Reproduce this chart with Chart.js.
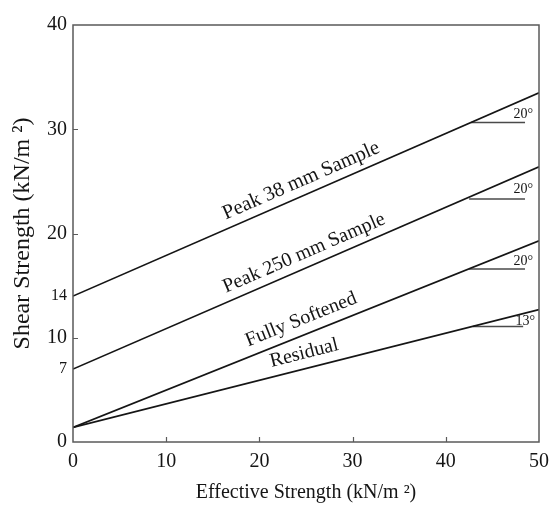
<!DOCTYPE html>
<html>
<head>
<meta charset="utf-8">
<script src="https://cdn.jsdelivr.net/npm/chart.js@4"></script>
<style>
  html, body { margin: 0; padding: 0; background: #ffffff; }
  #wrap { width: 549px; height: 507px; }
</style>
</head>
<body>
<div id="wrap"><canvas id="c" width="549" height="507"></canvas></div>
<script>
// ---- data ----
const strength = [0, 50];                 // effective strength (x)
const peak38 = [14, 33.5];                // Peak 38 mm Sample
const peak250 = [7, 26.4];                // Peak 250 mm Sample
const fullySoftened = [1.4, 19.3];        // Fully Softened
const residual = [1.4, 12.7];             // Residual

const lineNames = ['Peak 38 mm Sample', 'Peak 250 mm Sample', 'Fully Softened', 'Residual'];

// angle marker segments (horizontal reference lines)
const markerStart = [42.7, 42.5, 42.5, 42.9];
const markerEnd = [48.5, 48.5, 48.5, 48.3];
const markerLevel = [30.65, 23.3, 16.6, 11.08];
const angleLabels = ['20°', '20°', '20°', '13°'];

// tick labels
const xTicks = [0, 10, 20, 30, 40, 50];
const yTicks = [0, 7, 10, 14, 20, 30, 40];
const yTickMarks = [10, 20, 30];
const xTickMarks = [10, 20, 30, 40];

const SERIF = '"Liberation Serif", "Times New Roman", serif';
const INK = '#151515';
const AXIS = '#5a5a5a';

const toPts = vals => vals.map((v, i) => ({ x: strength[i], y: v }));
const series = [peak38, peak250, fullySoftened, residual];

const datasets = series.map((vals, i) => ({
  label: lineNames[i],
  data: toPts(vals),
  showLine: true,
  borderColor: INK,
  borderWidth: 1.6,
  pointRadius: 0,
  fill: false
}));
markerLevel.forEach((lv, i) => {
  datasets.push({
    label: 'marker' + i,
    data: [{ x: markerStart[i], y: lv }, { x: markerEnd[i], y: lv }],
    showLine: true,
    borderColor: '#4a4a4a',
    borderWidth: 1.5,
    pointRadius: 0,
    fill: false
  });
});

// frame + inward tick marks
const framePlugin = {
  id: 'frame',
  afterDatasetsDraw(chart) {
    const { ctx, chartArea: a, scales } = chart;
    ctx.save();
    ctx.strokeStyle = AXIS;
    ctx.lineWidth = 1.5;
    ctx.strokeRect(a.left, a.top, a.right - a.left, a.bottom - a.top);
    ctx.lineWidth = 1.2;
    ctx.beginPath();
    xTickMarks.forEach(v => {
      const px = Math.round(scales.x.getPixelForValue(v)) + 0.5;
      ctx.moveTo(px, a.bottom);
      ctx.lineTo(px, a.bottom - 5);
    });
    yTickMarks.forEach(v => {
      const py = Math.round(scales.y.getPixelForValue(v)) + 0.5;
      ctx.moveTo(a.left, py);
      ctx.lineTo(a.left + 5, py);
    });
    ctx.stroke();
    ctx.restore();
  }
};

// rotated line labels and angle labels
const labelPlugin = {
  id: 'lineLabels',
  afterDatasetsDraw(chart, args, opts) {
    const { ctx, scales } = chart;
    ctx.save();
    ctx.fillStyle = INK;
    opts.lines.forEach(l => {
      const meta = chart.getDatasetMeta(l.dataset);
      const p0 = meta.data[0], p1 = meta.data[1];
      const ang = Math.atan2(p1.y - p0.y, p1.x - p0.x);
      const t = (scales.x.getPixelForValue(l.at) - p0.x) / (p1.x - p0.x);
      const cx = p0.x + t * (p1.x - p0.x);
      const cy = p0.y + t * (p1.y - p0.y);
      ctx.save();
      ctx.translate(cx, cy);
      ctx.rotate(ang);
      ctx.font = l.size + 'px ' + SERIF;
      ctx.textAlign = 'center';
      ctx.textBaseline = 'alphabetic';
      ctx.fillText(lineNames[l.dataset], 0, -l.offset);
      ctx.restore();
    });
    angleLabels.forEach((txt, i) => {
      const o = opts.angles[i];
      const px = scales.x.getPixelForValue(markerEnd[i]) + o.dx;
      const py = scales.y.getPixelForValue(markerLevel[i]) + o.dy;
      ctx.font = '14px ' + SERIF;
      ctx.textAlign = 'right';
      ctx.textBaseline = 'bottom';
      ctx.fillText(txt, px, py);
    });
    ctx.restore();
  }
};

new Chart(document.getElementById('c'), {
  type: 'scatter',
  data: { datasets },
  plugins: [framePlugin, labelPlugin],
  options: {
    responsive: false,
    devicePixelRatio: 1,
    animation: false,
    layout: { padding: { top: 25, right: 10, left: 0, bottom: 0 } },
    plugins: {
      legend: { display: false },
      tooltip: { enabled: false },
      lineLabels: {
        lines: [
          { dataset: 0, at: 25.1, offset: 9, size: 20.5 },
          { dataset: 1, at: 25.4, offset: 9, size: 20 },
          { dataset: 2, at: 25.1, offset: 10, size: 20 },
          { dataset: 3, at: 25.2, offset: 10, size: 20 }
        ],
        angles: [
          { dx: 8, dy: -1 },
          { dx: 8, dy: -3 },
          { dx: 8, dy: -1 },
          { dx: 12, dy: 2 }
        ]
      }
    },
    scales: {
      x: {
        type: 'linear',
        min: 0,
        max: 50,
        afterBuildTicks: s => { s.ticks = xTicks.map(v => ({ value: v })); },
        afterFit: s => { s.height = 65; s.paddingLeft = 0; s.paddingRight = 0; },
        grid: { display: false, drawTicks: false },
        border: { display: false },
        ticks: {
          padding: 8,
          color: INK,
          font: { family: SERIF, size: 20 },
          maxRotation: 0,
          callback: v => String(v)
        },
        title: {
          display: true,
          text: 'Effective Strength (kN/m ²)',
          color: INK,
          font: { family: SERIF, size: 20 },
          padding: { top: 4, bottom: 2 }
        }
      },
      y: {
        type: 'linear',
        min: 0,
        max: 40,
        afterBuildTicks: s => { s.ticks = yTicks.map(v => ({ value: v })); },
        afterFit: s => { s.width = 73; },
        grid: { display: false, drawTicks: false },
        border: { display: false },
        ticks: {
          padding: 6,
          color: INK,
          autoSkip: false,
          font: ctx => (ctx.tick && (ctx.tick.value === 7 || ctx.tick.value === 14))
            ? { family: SERIF, size: 16 }
            : { family: SERIF, size: 20 },
          callback: v => String(v)
        },
        title: {
          display: true,
          text: 'Shear Strength (kN/m ²)',
          color: INK,
          font: { family: SERIF, size: 24 },
          padding: { top: 8, bottom: 4 }
        }
      }
    }
  }
});
</script>
</body>
</html>
